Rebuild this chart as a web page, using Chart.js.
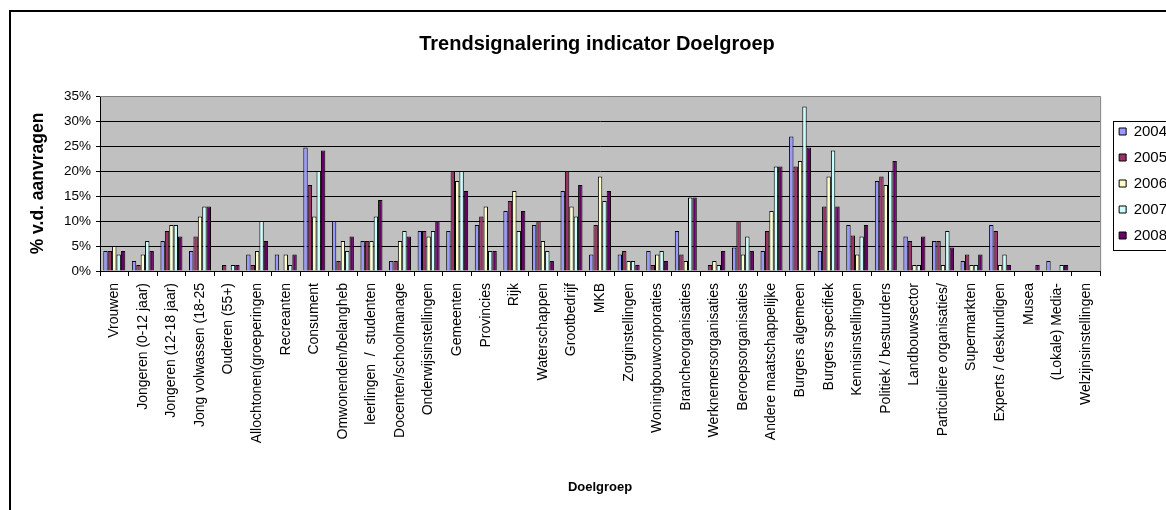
<!DOCTYPE html>
<html>
<head>
<meta charset="utf-8">
<script src="https://cdn.jsdelivr.net/npm/chart.js@4.4.1/dist/chart.umd.min.js"></script>
<style>
    html, body { margin: 0; padding: 0; background: #fff; overflow: hidden; width: 1166px; height: 510px; }
    #frame { position: absolute; left: 9px; top: 10px; width: 1168px; height: 510px; border: 2px solid #000; }
    canvas { display: block; }
</style>
</head>
<body>
<div id="frame"><canvas id="doelgroepChart" width="1168" height="510"></canvas></div>
<script>
const categories = [
    'Vrouwen', 'Jongeren (0-12 jaar)', 'Jongeren (12-18 jaar)', 'Jong volwassen (18-25', 'Ouderen (55+)',
    'Allochtonen(groeperingen', 'Recreanten', 'Consument', 'Omwonenden/belangheb', 'leerlingen  /  studenten',
    'Docenten/schoolmanage', 'Onderwijsinstellingen', 'Gemeenten', 'Provincies', 'Rijk',
    'Waterschappen', 'Grootbedrijf', 'MKB', 'Zorginstellingen', 'Woningbouwcorporaties',
    'Brancheorganisaties', 'Werknemersorganisaties', 'Beroepsorganisaties', 'Andere maatschappelijke', 'Burgers algemeen',
    'Burgers specifiek', 'Kennisinstellingen', 'Politiek / bestuurders', 'Landbouwsector', 'Particuliere organisaties/',
    'Supermarkten', 'Experts / deskundigen', 'Musea', '(Lokale) Media-', 'Welzijnsinstellingen'
];

const years = ['2004', '2005', '2006', '2007', '2008'];

const values2004 = [4, 2, 6, 4, 0, 3.3, 3.3, 24.7, 10, 6, 2, 8, 8, 9.2, 12, 9.2, 16, 3.3, 3.3, 4, 8, 0, 4.7, 4, 26.9, 4, 9.2, 18, 6.9, 6, 2, 9.2, 0, 2, 0];
const values2005 = [4, 1.2, 8, 6.9, 1.2, 1.2, 0, 17.2, 2, 6, 2, 8, 20, 10.9, 14, 10, 20, 9.2, 4, 1.2, 3.3, 1.2, 10, 8, 20.9, 12.9, 7.1, 18.9, 6, 6, 3.3, 8, 0, 0, 0];
const values2006 = [5, 3.3, 9.2, 10.9, 0, 4, 3.3, 10.9, 6, 6, 6, 6.9, 18, 12.9, 16, 6, 12.9, 18.9, 2, 3.3, 2, 2, 3.3, 12, 22, 18.9, 3.3, 17.2, 1.2, 1.2, 1.2, 1.2, 0, 0, 0];
const values2007 = [3.3, 6, 9.2, 12.9, 1.2, 10, 1.2, 20, 4, 10.9, 8, 8, 20, 4, 8, 4, 10.9, 14, 2, 4, 14.7, 1.2, 6.9, 20.9, 32.9, 24.1, 6.9, 20, 1.2, 8, 1.2, 3.3, 0, 1.2, 0];
const values2008 = [4, 4, 6.9, 12.9, 1.2, 6, 3.3, 24.1, 6.9, 14.2, 6.9, 10, 16, 4, 12, 2, 17.2, 16, 1.2, 2, 14.7, 4, 4, 20.9, 24.7, 12.9, 9.2, 22, 6.9, 4.7, 3.3, 1.2, 1.2, 1.2, 0];

const yMax = 35;
const yStep = 5;

const seriesValues = [values2004, values2005, values2006, values2007, values2008];
const seriesColors = ['#9999ff', '#993366', '#ffffcc', '#ccffff', '#660066'];

Chart.defaults.font.family = '"Liberation Sans", Arial, sans-serif';
Chart.defaults.color = '#000';

// grey plot area behind the bars, grey frame on top/right
const plotArea = {
    id: 'plotArea',
    beforeDraw(chart) {
        const { ctx, chartArea: a } = chart;
        ctx.save();
        ctx.fillStyle = '#c0c0c0';
        ctx.fillRect(a.left, a.top, a.width, a.height);
        ctx.restore();
    },
    afterDraw(chart) {
        const { ctx, chartArea: a } = chart;
        ctx.save();
        ctx.strokeStyle = '#808080';
        ctx.lineWidth = 1;
        ctx.beginPath();
        ctx.moveTo(a.left, a.top + 0.5);
        ctx.lineTo(a.right + 0.5, a.top + 0.5);
        ctx.lineTo(a.right + 0.5, a.bottom);
        ctx.stroke();
        ctx.restore();
    }
};

// move the legend next to the plot (centred on it) and box it in
const legendFrame = {
    id: 'legendFrame',
    afterLayout(chart) {
        const legend = chart.legend;
        const a = chart.chartArea;
        legend.left += 8;
        legend.right += 8;
        legend.top = a.top;
        legend.bottom = a.bottom;
        legend.height = a.height;
    },
    afterDraw(chart) {
        const legend = chart.legend;
        const boxes = legend.legendHitBoxes;
        if (!boxes || !boxes.length) return;
        const last = boxes[boxes.length - 1];
        const x = Math.round(legend.left + 5) + 0.5;
        const top = Math.round(boxes[0].top - 3) + 0.5;
        const bottom = Math.round(last.top + last.height + 7) + 0.5;
        const ctx = chart.ctx;
        ctx.save();
        ctx.strokeStyle = '#000';
        ctx.lineWidth = 1;
        ctx.strokeRect(x, top, chart.width + 10 - x, bottom - top);
        ctx.restore();
    }
};

const ctxDoelgroep = document.getElementById('doelgroepChart').getContext('2d');

const doelgroepChart = new Chart(ctxDoelgroep, {
    type: 'bar',
    data: {
        labels: categories,
        datasets: years.map((year, i) => ({
            label: year,
            data: seriesValues[i],
            backgroundColor: seriesColors[i],
            borderColor: '#000',
            borderWidth: 1,
            categoryPercentage: 0.77,
            barPercentage: 1.0
        }))
    },
    options: {
        responsive: false,
        animation: false,
        layout: {
            padding: { left: 14, right: 10, top: 0, bottom: 23 }
        },
        plugins: {
            title: {
                display: true,
                text: 'Trendsignalering indicator Doelgroep',
                font: { size: 20, weight: 'bold' },
                padding: { top: 20, bottom: 40 }
            },
            legend: {
                position: 'right',
                labels: {
                    boxWidth: 7,
                    boxHeight: 7,
                    padding: 11,
                    font: { size: 15 }
                }
            },
            tooltip: { enabled: false }
        },
        scales: {
            x: {
                afterFit(scale) { scale.height = 228; },
                grid: {
                    offset: true,
                    drawOnChartArea: false,
                    drawTicks: true,
                    tickLength: 5,
                    color: '#000'
                },
                border: { display: true, color: '#000' },
                ticks: {
                    autoSkip: false,
                    minRotation: 90,
                    maxRotation: 90,
                    padding: 7,
                    font: { size: 14 }
                },
                title: {
                    display: true,
                    text: 'Doelgroep',
                    font: { size: 13, weight: 'bold' },
                    padding: { top: 4, bottom: 4 }
                }
            },
            y: {
                min: 0,
                max: yMax,
                afterFit(scale) { scale.width = 75; },
                grid: {
                    color: ctx => (ctx.tick && ctx.tick.value === yMax ? '#808080' : '#000'),
                    tickColor: '#000',
                    tickLength: 4
                },
                border: { display: true, color: '#000' },
                ticks: {
                    stepSize: yStep,
                    padding: 5,
                    font: { size: 13.5 },
                    callback: value => value + '%'
                },
                title: {
                    display: true,
                    text: '% v.d. aanvragen',
                    font: { size: 17.5, weight: 'bold' },
                    padding: { top: 3, bottom: 0 }
                }
            }
        }
    },
    plugins: [plotArea, legendFrame]
});
</script>
</body>
</html>
